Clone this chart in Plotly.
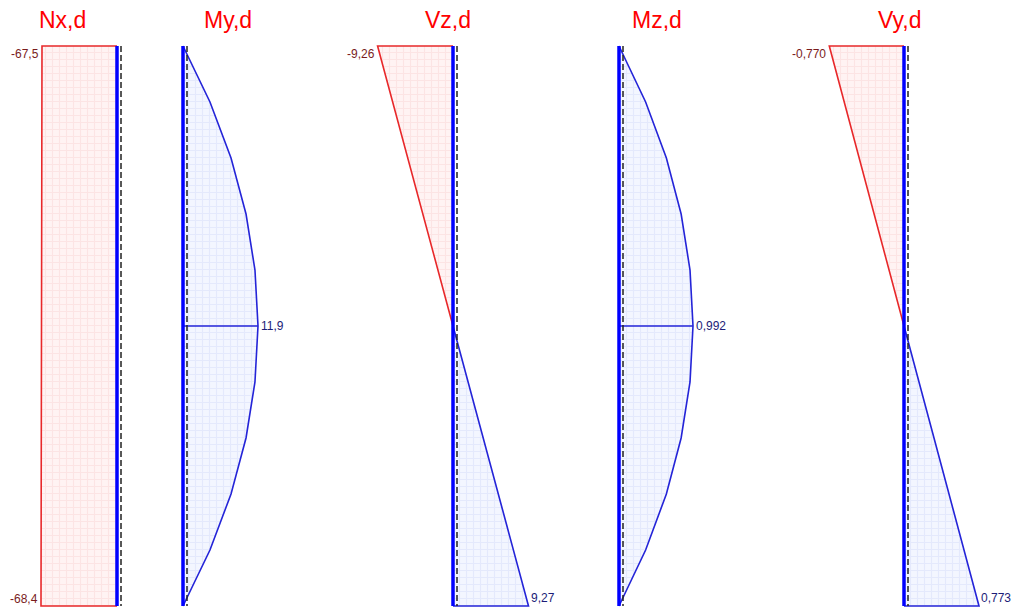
import plotly.graph_objects as go

# ---------------- data ----------------
titles = ["Nx,d", "My,d", "Vz,d", "Mz,d", "Vy,d"]

# position along the member (0 = top, 1 = bottom)
s_pts = [0.0, 0.1, 0.2, 0.3, 0.4, 0.5, 0.6, 0.7, 0.8, 0.9, 1.0]

nx_s = [0.0, 1.0]
nx_vals = [-67.5, -68.4]

my_vals = [0.0, 4.28, 7.62, 10.0, 11.42, 11.9, 11.42, 10.0, 7.62, 4.28, 0.0]
mz_vals = [0.0, 0.357, 0.635, 0.833, 0.952, 0.992, 0.952, 0.833, 0.635, 0.357, 0.0]

vz_s = [0.0, 0.5, 1.0]
vz_vals = [-9.26, 0.0, 9.27]

vy_s = [0.0, 0.5, 1.0]
vy_vals = [-0.770, 0.0, 0.773]

labels_nx = ["-67,5", "-68,4"]
label_my = "11,9"
labels_vz = ["-9,26", "9,27"]
label_mz = "0,992"
labels_vy = ["-0,770", "0,773"]

# ---------------- layout geometry ----------------
W, H = 1017, 610
panel_px = [(0, 150), (150, 330), (330, 560), (560, 760), (760, 1017)]
axis_px = [117, 183, 453, 619, 904]
scale = [76 / 68.4, 75 / 11.9, 75.5 / 9.27, 74 / 0.992, 75 / 0.773]  # px per unit
title_px = [62, 228, 448, 657, 899]

RED = "#e8282a"
BLUE = "#2424d8"
AXBLUE = "#0000ff"
LRED = "#7a1c1c"
LBLUE = "#1c1c78"
FONT = "Liberation Sans, Arial, sans-serif"

pink_fill = dict(shape="+", size=7, solidity=0.3,
                 fgcolor="rgba(245,195,195,0.6)", bgcolor="rgba(255,242,242,0.9)")
blue_fill = dict(shape="+", size=7, solidity=0.3,
                 fgcolor="rgba(195,205,245,0.6)", bgcolor="rgba(242,245,255,0.9)")

fig = go.Figure()


def ax(i):
    return ("x" if i == 0 else f"x{i+1}", "y" if i == 0 else f"y{i+1}")


def add(i, **kw):
    xa, ya = ax(i)
    fig.add_trace(go.Scatter(xaxis=xa, yaxis=ya, showlegend=False, hoverinfo="skip", **kw))


def fill_poly(i, xs, ys, pat):
    add(i, x=xs, y=ys, mode="lines", line=dict(width=0), fill="toself",
        fillcolor="rgba(255,255,255,0)", fillpattern=pat)


def line(i, xs, ys, color, width=1.6, dash=None):
    add(i, x=xs, y=ys, mode="lines", line=dict(color=color, width=width, dash=dash))


# Panel 0: Nx
fill_poly(0, [0, nx_vals[0], nx_vals[1], 0], [nx_s[0], nx_s[0], nx_s[1], nx_s[1]], pink_fill)
line(0, [0, nx_vals[0], nx_vals[1], 0], [nx_s[0], nx_s[0], nx_s[1], nx_s[1]], RED)

# Panel 1: My
fill_poly(1, [0] + my_vals + [0], [s_pts[0]] + s_pts + [s_pts[-1]], blue_fill)
line(1, my_vals, s_pts, BLUE)
line(1, [0, max(my_vals)], [0.5, 0.5], BLUE, width=1.3)

# Panel 2: Vz
fill_poly(2, [0, vz_vals[0], vz_vals[1]], [vz_s[0], vz_s[0], vz_s[1]], pink_fill)
fill_poly(2, [vz_vals[1], vz_vals[2], 0], [vz_s[1], vz_s[2], vz_s[2]], blue_fill)
line(2, [0, vz_vals[0], vz_vals[1]], [vz_s[0], vz_s[0], vz_s[1]], RED)
line(2, [vz_vals[1], vz_vals[2], 0], [vz_s[1], vz_s[2], vz_s[2]], BLUE)

# Panel 3: Mz
fill_poly(3, [0] + mz_vals + [0], [s_pts[0]] + s_pts + [s_pts[-1]], blue_fill)
line(3, mz_vals, s_pts, BLUE)
line(3, [0, max(mz_vals)], [0.5, 0.5], BLUE, width=1.3)

# Panel 4: Vy
fill_poly(4, [0, vy_vals[0], vy_vals[1]], [vy_s[0], vy_s[0], vy_s[1]], pink_fill)
fill_poly(4, [vy_vals[1], vy_vals[2], 0], [vy_s[1], vy_s[2], vy_s[2]], blue_fill)
line(4, [0, vy_vals[0], vy_vals[1]], [vy_s[0], vy_s[0], vy_s[1]], RED)
line(4, [vy_vals[1], vy_vals[2], 0], [vy_s[1], vy_s[2], vy_s[2]], BLUE)

# reference (dashed) and member axis lines
for i in range(5):
    off = 4 / scale[i]
    line(i, [off, off], [0, 1], "#222222", width=1.5, dash="6px,3px")
    line(i, [0, 0], [0, 1], AXBLUE, width=3.5)

# ---------------- axes ----------------
yr = [1 + 4 / 560, -46 / 560]
for i in range(5):
    p0, p1 = panel_px[i]
    xr = [(p0 - axis_px[i]) / scale[i], (p1 - axis_px[i]) / scale[i]]
    xa, ya = ax(i)
    xkey = "xaxis" if i == 0 else f"xaxis{i+1}"
    ykey = "yaxis" if i == 0 else f"yaxis{i+1}"
    fig.update_layout(**{
        xkey: dict(domain=[p0 / W, p1 / W], range=xr, visible=False, anchor=ya, fixedrange=True),
        ykey: dict(domain=[0, 1], range=yr, visible=False, anchor=xa, fixedrange=True),
    })

# ---------------- annotations ----------------
ann = []
for i in range(5):
    ann.append(dict(text=titles[i], xref="paper", yref="paper", x=title_px[i] / W, y=1 - 20 / H,
                    xanchor="center", yanchor="middle", showarrow=False,
                    font=dict(family=FONT, size=23, color="#ff0000")))


def lab(i, text, x, y, xanchor, yanchor, color, xshift=0, yshift=0):
    xa, ya = ax(i)
    ann.append(dict(text=text, xref=xa, yref=ya, x=x, y=y, xanchor=xanchor, yanchor=yanchor,
                    showarrow=False, xshift=xshift, yshift=yshift,
                    font=dict(family=FONT, size=12, color=color)))


lab(0, labels_nx[0], nx_vals[0], 0, "right", "middle", LRED, xshift=-1, yshift=-8)
lab(0, labels_nx[1], nx_vals[1], 1, "right", "middle", LRED, xshift=-1, yshift=7)
lab(1, label_my, max(my_vals), 0.5, "left", "middle", LBLUE, xshift=1)
lab(2, labels_vz[0], vz_vals[0], 0, "right", "middle", LRED, xshift=-1, yshift=-8)
lab(2, labels_vz[1], vz_vals[2], 1, "left", "middle", LBLUE, xshift=0, yshift=8)
lab(3, label_mz, max(mz_vals), 0.5, "left", "middle", LBLUE, xshift=1)
lab(4, labels_vy[0], vy_vals[0], 0, "right", "middle", LRED, xshift=-1, yshift=-8)
lab(4, labels_vy[1], vy_vals[2], 1, "left", "middle", LBLUE, xshift=0, yshift=8)

fig.update_layout(width=W, height=H, margin=dict(l=0, r=0, t=0, b=0),
                  paper_bgcolor="white", plot_bgcolor="rgba(0,0,0,0)",
                  annotations=ann)

fig.write_html("out.html", config={"displayModeBar": False},
               post_script="document.body.style.margin='0';document.body.style.overflow='hidden';")
